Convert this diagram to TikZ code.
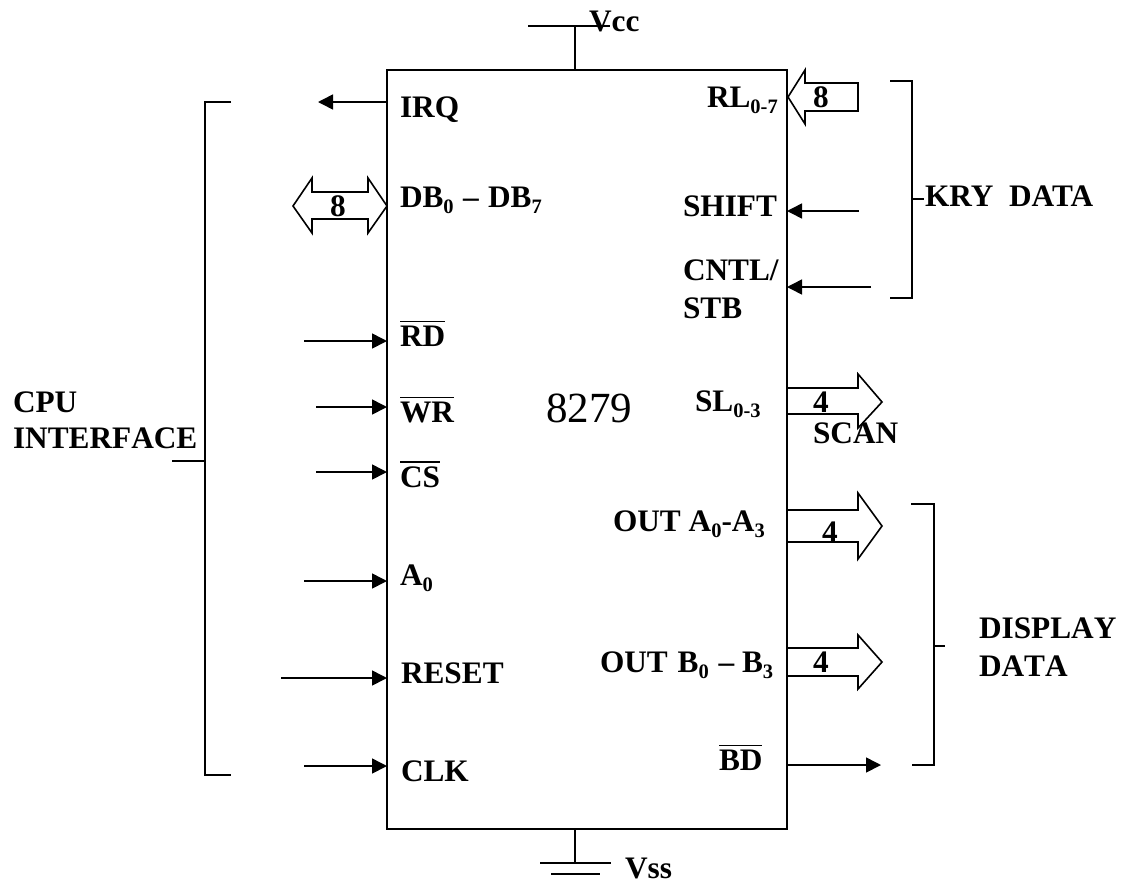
\documentclass[tikz,border=0pt]{standalone}
\usepackage{fontspec}
\setmainfont[Kerning=Off]{Liberation Serif}
\usetikzlibrary{arrows.meta}
\tikzset{
  x=1pt,y=-1pt,
  conn/.style={line width=1.6pt,black},
  sig/.style={conn,-{Triangle[length=15pt,width=15pt]}},
  lbl/.style={anchor=base west,inner sep=0pt,outer sep=0pt,font=\fontsize{31.3}{31.3}\selectfont\bfseries},
  chip/.style={draw,line width=1.6pt,minimum width=400pt,minimum height=759pt,inner sep=0pt,outer sep=0pt,anchor=north west},
  bus/.style={line width=1.6pt,line join=miter,fill=none,draw=black},
}
\newcommand{\sbs}[1]{\raisebox{-0.2em}{\fontsize{20.5}{20.5}\selectfont #1}}
\newcommand{\obar}[1]{\vbox{\hrule height 1.5pt\kern3.5pt\hbox{#1}}}
\begin{document}
\begin{tikzpicture}
\useasboundingbox (0,0) rectangle (1123,884);
\node[chip] (chip) at (387,70) {};
\node[anchor=base west,inner sep=0pt,font=\fontsize{43}{43}\selectfont] (name) at (546,422) {8279};
\coordinate (vcct) at (575,26);\coordinate (vccl) at (528,26);\coordinate (vccr) at (610,26);
\draw[conn] (chip.north -| vcct) -- (vcct);
\draw[conn] (vccl) -- (vccr);
\node[lbl] (vcc) at (589,31) {Vcc};
\coordinate (vssa) at (575,863);\coordinate (vssl) at (540,863);\coordinate (vssr) at (611,863);
\coordinate (vssl2) at (551,874);\coordinate (vssr2) at (600,874);
\draw[conn] (chip.south -| vssa) -- (vssa);
\draw[conn] (vssl) -- (vssr);
\draw[conn] (vssl2) -- (vssr2);
\node[lbl] (vss) at (625,878) {Vss};
% left labels
\node[lbl] (irq) at (400,117) {IRQ};
\node[lbl] (db) at (400,207) {DB\sbs{0}\hspace{1.5pt} – \hspace{1.5pt}DB\sbs{7}};
\node[lbl] (rd) at (400,346) {\obar{RD}};
\node[lbl] (wr) at (400,422) {\obar{WR}};
\node[lbl] (cs) at (400,487) {\obar{CS}};
\node[lbl] (a0) at (400,585) {A\sbs{0}};
\node[lbl] (reset) at (401,683) {RESET};
\node[lbl] (clk) at (401,781) {CLK};
% left arrows
\coordinate (irqe) at (318,102);
\draw[sig] (chip.west |- irqe) -- (irqe);
\foreach \n/\xs/\yy in {rdc/304/341,wrc/316/407,csc/316/472,a0c/304/581,resc/281/678,clkc/304/766}{
  \coordinate (\n) at (\xs,\yy);
  \draw[sig] (\n) -- (chip.west |- \n);
}
% DB bus
\draw[bus] (387,206) -- (368,178) -- (368,192) -- (312,192) -- (312,178) -- (293,206) -- (312,233) -- (312,219) -- (368,219) -- (368,233) -- cycle;
\node[lbl] (n8a) at (330,216) {8};
% left bracket
\coordinate (cpua) at (231,102);\coordinate (cpub) at (205,102);\coordinate (cpuc) at (205,775);\coordinate (cpud) at (231,775);
\draw[conn] (cpua) -- (cpub) -- (cpuc) -- (cpud);
\coordinate (cput) at (172,461);
\draw[conn] (cput) -- (cpub |- cput);
\node[lbl] (cpu1) at (13,412) {CPU};
\node[lbl] (cpu2) at (13,448) {INTERFACE};
% right labels
\node[lbl] (rl) at (707,107) {RL\sbs{0-7}};
\node[lbl] (shift) at (683,216) {SHIFT};
\node[lbl] (cntl) at (683,280) {CNTL/};
\node[lbl] (stb) at (683,318) {STB};
\node[lbl] (sl) at (695,411) {SL\sbs{0-3}};
\node[lbl] (outa) at (613,531) {OUT A\sbs{0}-A\sbs{3}};
\node[lbl] (outb) at (600,672) {OUT\hspace{2pt} B\sbs{0}\hspace{2pt} – B\sbs{3}};
\node[lbl] (bd) at (719,770) {\obar{BD}};
% RL bus
\draw[bus] (788,97) -- (805,70) -- (805,83) -- (858,83) -- (858,111) -- (805,111) -- (805,124) -- cycle;
\node[lbl] (n8b) at (813,107) {8};
\coordinate (shc) at (859,211);\coordinate (cnc) at (871,287);
\draw[sig] (shc) -- (chip.east |- shc);
\draw[sig] (cnc) -- (chip.east |- cnc);
% right buses
\draw[bus] (787,388) -- (858,388) -- (858,374) -- (882,402) -- (858,428) -- (858,414) -- (787,414);
\node[lbl] (n4a) at (813,412) {4};
\node[lbl] (scan) at (813,443) {SCAN};
\draw[bus] (787,510) -- (858,510) -- (858,493) -- (882,526) -- (858,559) -- (858,542) -- (787,542);
\node[lbl] (n4b) at (822,542) {4};
\draw[bus] (787,648) -- (858,648) -- (858,635) -- (882,662) -- (858,689) -- (858,676) -- (787,676);
\node[lbl] (n4c) at (813,672) {4};
\coordinate (bde) at (881,765);
\draw[sig] (chip.east |- bde) -- (bde);
% KRY bracket
\coordinate (ka) at (890,81);\coordinate (kb) at (912,81);\coordinate (kc) at (912,298);\coordinate (kd) at (890,298);
\draw[conn] (ka) -- (kb) -- (kc) -- (kd);
\node[lbl] (kry) at (925,206) {\addfontfeature{Kerning=On}KRY\ \ DATA};
\coordinate (kt) at (924,199);
\draw[conn] (kb |- kt) -- (kt);
% DISPLAY bracket
\coordinate (da) at (911,504);\coordinate (db2) at (934,504);\coordinate (dc) at (934,765);\coordinate (dd) at (912,765);
\draw[conn] (da) -- (db2) -- (dc) -- (dd);
\coordinate (dt) at (945,646);
\draw[conn] (db2 |- dt) -- (dt);
\node[lbl] (dis1) at (979,638) {DISPLAY};
\node[lbl] (dis2) at (979,676) {DATA};
\end{tikzpicture}
\end{document}
